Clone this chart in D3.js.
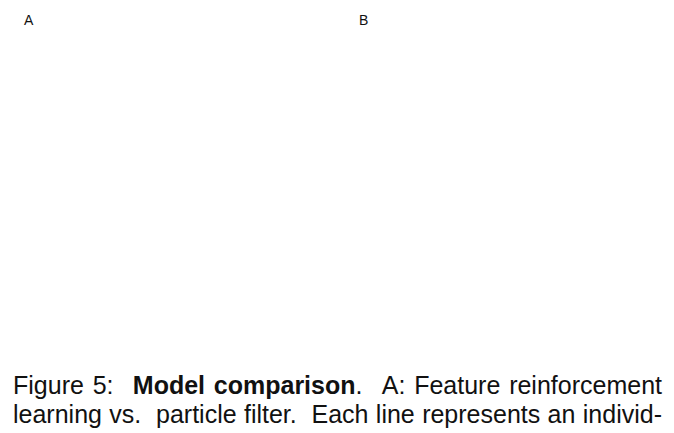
<!DOCTYPE html>
<html><head><meta charset="utf-8">
<script src="https://cdn.jsdelivr.net/npm/d3@7"></script>
<style>html,body{margin:0;padding:0;background:#fff;}svg{display:block;}</style>
</head><body>
<script>
const panelLabels = ["A", "B"];
// gap = relative width of the space AFTER this word (sentence ends get wider spaces)
const captionLine1 = [
  {t:"Figure", b:false}, {t:"5:", b:false, gap:2.2}, {t:"Model", b:true}, {t:"comparison", b:true},
  {t:".", b:false, attach:true, gap:2.2}, {t:"A:", b:false}, {t:"Feature", b:false}, {t:"reinforcement", b:false}
];
const captionLine2 = [
  {t:"learning", b:false}, {t:"vs.", b:false, gap:2}, {t:"particle", b:false}, {t:"filter.", b:false, gap:2},
  {t:"Each", b:false}, {t:"line", b:false}, {t:"represents", b:false}, {t:"an", b:false}, {t:"individ-", b:false}
];

const W = 674, H = 433;
const svg = d3.select("body").append("svg").attr("width", W).attr("height", H);
const font = "'Liberation Sans', Arial, Helvetica, sans-serif";

const px = d3.scaleBand().domain(panelLabels).range([24, 694]).align(0);
svg.selectAll("text.panel").data(panelLabels).join("text")
  .attr("class","panel")
  .attr("x", d => px(d))
  .attr("y", 25)
  .attr("font-family", font).attr("font-size", 14).attr("fill", "#111")
  .text(d => d);

function justify(words, y, x0, x1) {
  const g = svg.append("g");
  const items = words.map(w => {
    const el = g.append("text").attr("y", y).attr("font-family", font).attr("font-size", 25)
      .attr("font-weight", w.b ? "bold" : "normal").attr("fill", "#111").text(w.t);
    return {el, w: el.node().getComputedTextLength(), gap: w.gap || 1, attach: !!w.attach};
  });
  const total = d3.sum(items, d => d.w);
  const gaps = items.slice(1).map((d, i) => d.attach ? 0 : items[i].gap);
  const unit = (x1 - x0 - total) / d3.sum(gaps);
  let x = x0;
  items.forEach((d, i) => {
    if (i > 0) x += gaps[i-1] * unit;
    d.el.attr("x", x);
    x += d.w;
  });
}
justify(captionLine1, 394, 13, 662);
justify(captionLine2, 423, 13, 662);
</script>
</body></html>
